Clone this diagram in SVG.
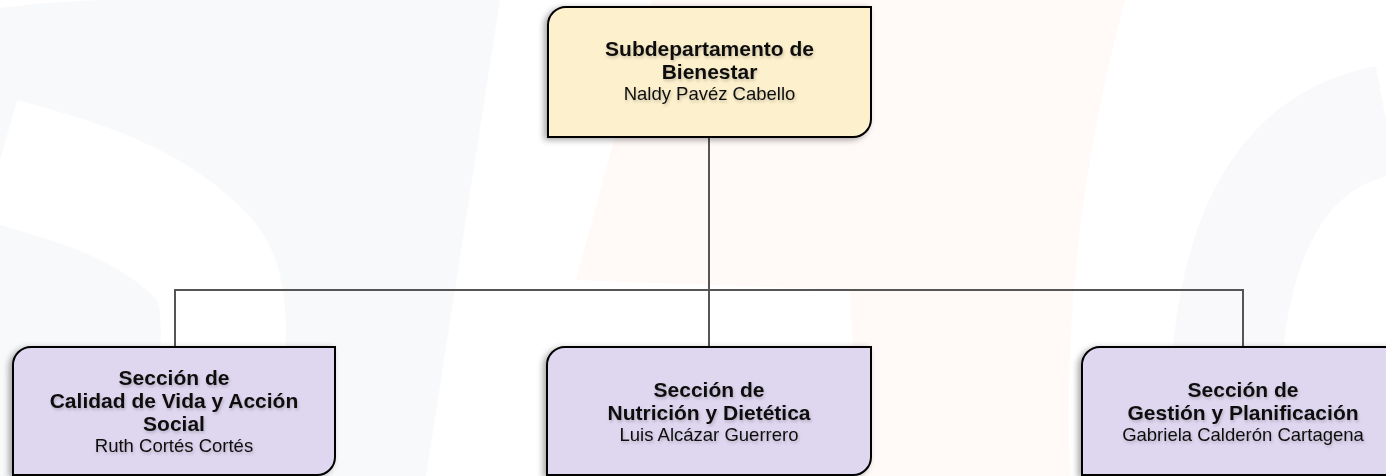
<svg xmlns="http://www.w3.org/2000/svg" width="1386" height="476" viewBox="0 0 1386 476">
  <defs>
    <filter id="boxShadow" x="-10%" y="-10%" width="120%" height="130%">
      <feDropShadow dx="-3" dy="2" stdDeviation="3" flood-color="#000" flood-opacity="0.35"/>
    </filter>
    <filter id="textShadow" x="-5%" y="-20%" width="110%" height="160%">
      <feDropShadow dx="1" dy="2" stdDeviation="1.5" flood-color="#000" flood-opacity="0.2"/>
    </filter>
  </defs>
  <style>
    .box { stroke: #000; stroke-width: 2; filter: url(#boxShadow); }
    .top { fill: #FDF0CC; }
    .sec { fill: #DFD7F0; }
    .t { font-family: "Liberation Sans", Arial, sans-serif; fill: #111; text-anchor: middle; filter: url(#textShadow); }
    .b { font-weight: bold; font-size: 21px; }
    .r { font-size: 18.5px; }
    .conn { fill: none; stroke: #555; stroke-width: 2; }
    .wm-g { fill: #F8F9FB; }
    .wm-p { fill: #FFF9F7; }
  </style>
  <rect x="0" y="0" width="1386" height="476" fill="#fff"/>
  <g id="watermark">
    <path class="wm-g" d="M0,8 Q90,-4 230,0 L500,0 L426,476 L0,476 Z"/>
    <path d="M0,160 C70,180 150,200 205,260 C240,300 215,400 210,476" fill="none" stroke="#fff" stroke-width="125"/>
    <path class="wm-p" d="M652,0 L1125,0 Q1060,240 1070,476 L860,476 L850,290 L576,280 Z"/>
    <path d="M1386,120 C1280,140 1215,240 1225,476" fill="none" stroke="#F9F9FB" stroke-width="110"/>
  </g>
  <g id="connectors">
    <path class="conn" d="M709,137 V347"/>
    <path class="conn" d="M175,347 V290 H1243 V347"/>
  </g>
  <g id="node-subdepartamento">
    <path class="box top" d="M548,25 A18,18 0 0 1 566,7 H871 V119 A18,18 0 0 1 853,137 H548 Z"/>
    <text class="t b" x="709.5" y="56">Subdepartamento de</text>
    <text class="t b" x="709.5" y="79">Bienestar</text>
    <text class="t r" x="709.5" y="100">Naldy Pavéz Cabello</text>
  </g>
  <g id="node-calidad">
    <path class="box sec" d="M13,365 A18,18 0 0 1 31,347 H335 V457 A18,18 0 0 1 317,475 H13 Z"/>
    <text class="t b" x="174" y="384.5">Sección de</text>
    <text class="t b" x="174" y="407.5">Calidad de Vida y Acción</text>
    <text class="t b" x="174" y="430.5">Social</text>
    <text class="t r" x="174" y="451.5">Ruth Cortés Cortés</text>
  </g>
  <g id="node-nutricion">
    <path class="box sec" d="M547,365 A18,18 0 0 1 565,347 H871 V457 A18,18 0 0 1 853,475 H547 Z"/>
    <text class="t b" x="709" y="397">Sección de</text>
    <text class="t b" x="709" y="420">Nutrición y Dietética</text>
    <text class="t r" x="709" y="441">Luis Alcázar Guerrero</text>
  </g>
  <g id="node-gestion">
    <path class="box sec" d="M1082,365 A18,18 0 0 1 1100,347 H1405 V457 A18,18 0 0 1 1387,475 H1082 Z"/>
    <text class="t b" x="1243" y="397">Sección de</text>
    <text class="t b" x="1243" y="420">Gestión y Planificación</text>
    <text class="t r" x="1243" y="441">Gabriela Calderón Cartagena</text>
  </g>
</svg>
